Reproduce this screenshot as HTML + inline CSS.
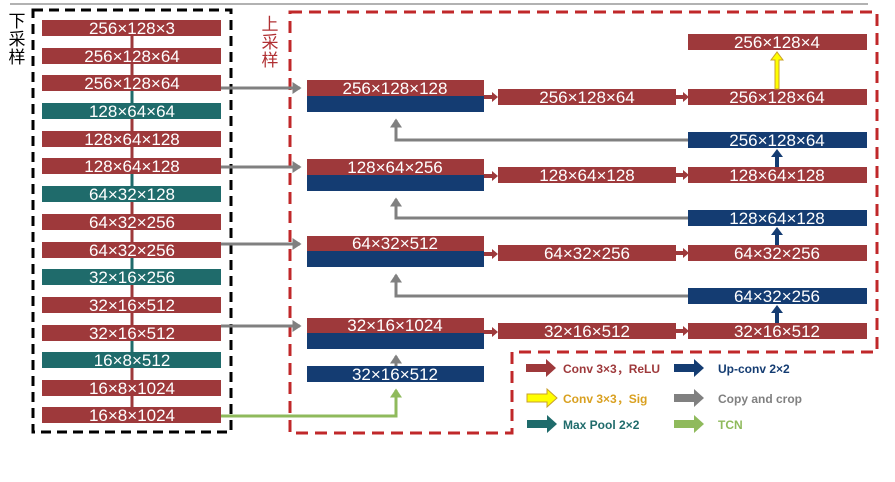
<!DOCTYPE html>
<html><head><meta charset="utf-8"><style>
body{margin:0;background:#fff;}
svg{display:block;}
text{font-family:"Liberation Sans","Noto Sans CJK SC",sans-serif;}
.w{fill:#fff;font-size:17px;text-anchor:middle;}
</style></head><body>
<svg width="895" height="482" viewBox="0 0 895 482" xmlns="http://www.w3.org/2000/svg">
<defs>
<marker id="ag" markerWidth="4" markerHeight="4" refX="2.5" refY="2" orient="auto" markerUnits="strokeWidth"><path d="M0,0 L3,2 L0,4z" fill="#808080"/></marker>
<marker id="agr" markerWidth="4" markerHeight="4" refX="2.5" refY="2" orient="auto" markerUnits="strokeWidth"><path d="M0,0 L3,2 L0,4z" fill="#8fba5c"/></marker>
</defs>
<line x1="10" y1="4" x2="868" y2="4" stroke="#999" stroke-width="1.5"/>
<rect x="33" y="10" width="198" height="422" fill="none" stroke="#000" stroke-width="3" stroke-dasharray="10,6"/>
<path d="M290,12 H877 V352 H512 V433 H290 Z" fill="none" stroke="#c0282a" stroke-width="3" stroke-dasharray="12,7"/>
<text x="17" y="27" font-size="17" text-anchor="middle">下</text>
<text x="17" y="45" font-size="17" text-anchor="middle">采</text>
<text x="17" y="63" font-size="17" text-anchor="middle">样</text>
<text x="270" y="30" font-size="17" fill="#b03033" text-anchor="middle">上</text>
<text x="270" y="48" font-size="17" fill="#b03033" text-anchor="middle">采</text>
<text x="270" y="66" font-size="17" fill="#b03033" text-anchor="middle">样</text>

<g stroke-width="3">
<line x1="132" y1="36" x2="132" y2="48" stroke="#9e393b"/>
<line x1="132" y1="64" x2="132" y2="76" stroke="#9e393b"/>
<line x1="132" y1="91" x2="132" y2="103" stroke="#1f6b6b"/>
<line x1="132" y1="119" x2="132" y2="131" stroke="#9e393b"/>
<line x1="132" y1="147" x2="132" y2="159" stroke="#9e393b"/>
<line x1="132" y1="174" x2="132" y2="186" stroke="#1f6b6b"/>
<line x1="132" y1="202" x2="132" y2="214" stroke="#9e393b"/>
<line x1="132" y1="230" x2="132" y2="242" stroke="#9e393b"/>
<line x1="132" y1="257" x2="132" y2="269" stroke="#1f6b6b"/>
<line x1="132" y1="285" x2="132" y2="297" stroke="#9e393b"/>
<line x1="132" y1="313" x2="132" y2="325" stroke="#9e393b"/>
<line x1="132" y1="340" x2="132" y2="352" stroke="#1f6b6b"/>
<line x1="132" y1="368" x2="132" y2="380" stroke="#9e393b"/>
<line x1="132" y1="396" x2="132" y2="408" stroke="#9e393b"/>
</g>
<g>
<rect x="42" y="20" width="179" height="16" fill="#9e393b"/><text class="w" x="132" y="34">256×128×3</text>
<rect x="42" y="48" width="179" height="16" fill="#9e393b"/><text class="w" x="132" y="62">256×128×64</text>
<rect x="42" y="75" width="179" height="16" fill="#9e393b"/><text class="w" x="132" y="89">256×128×64</text>
<rect x="42" y="103" width="179" height="16" fill="#1f6b6b"/><text class="w" x="132" y="117">128×64×64</text>
<rect x="42" y="131" width="179" height="16" fill="#9e393b"/><text class="w" x="132" y="145">128×64×128</text>
<rect x="42" y="158" width="179" height="16" fill="#9e393b"/><text class="w" x="132" y="172">128×64×128</text>
<rect x="42" y="186" width="179" height="16" fill="#1f6b6b"/><text class="w" x="132" y="200">64×32×128</text>
<rect x="42" y="214" width="179" height="16" fill="#9e393b"/><text class="w" x="132" y="228">64×32×256</text>
<rect x="42" y="242" width="179" height="16" fill="#9e393b"/><text class="w" x="132" y="256">64×32×256</text>
<rect x="42" y="269" width="179" height="16" fill="#1f6b6b"/><text class="w" x="132" y="283">32×16×256</text>
<rect x="42" y="297" width="179" height="16" fill="#9e393b"/><text class="w" x="132" y="311">32×16×512</text>
<rect x="42" y="325" width="179" height="16" fill="#9e393b"/><text class="w" x="132" y="339">32×16×512</text>
<rect x="42" y="352" width="179" height="16" fill="#1f6b6b"/><text class="w" x="132" y="366">16×8×512</text>
<rect x="42" y="380" width="179" height="16" fill="#9e393b"/><text class="w" x="132" y="394">16×8×1024</text>
<rect x="42" y="407" width="179" height="16" fill="#9e393b"/><text class="w" x="132" y="421">16×8×1024</text>
</g>

<g stroke="#808080" stroke-width="3" fill="none">
<line x1="221" y1="88" x2="300" y2="88" marker-end="url(#ag)"/>
<line x1="221" y1="167" x2="300" y2="167" marker-end="url(#ag)"/>
<line x1="221" y1="244" x2="300" y2="244" marker-end="url(#ag)"/>
<line x1="221" y1="326" x2="300" y2="326" marker-end="url(#ag)"/>
<polyline points="688,140 396,140 396,120" marker-end="url(#ag)"/>
<polyline points="688,218 396,218 396,199" marker-end="url(#ag)"/>
<polyline points="688,296 396,296 396,275" marker-end="url(#ag)"/>
<line x1="396" y1="366" x2="396" y2="356" marker-end="url(#ag)"/>
</g>
<polyline points="221,416 396,416 396,390" stroke="#8fba5c" stroke-width="3" fill="none" marker-end="url(#agr)"/>

<g>
<rect x="307" y="80" width="177" height="16" fill="#9e393b"/><rect x="307" y="96" width="177" height="16" fill="#143c72"/><text class="w" x="395" y="94">256×128×128</text>
<rect x="307" y="159" width="177" height="16" fill="#9e393b"/><rect x="307" y="175" width="177" height="16" fill="#143c72"/><text class="w" x="395" y="173">128×64×256</text>
<rect x="307" y="236" width="177" height="15" fill="#9e393b"/><rect x="307" y="251" width="177" height="16" fill="#143c72"/><text class="w" x="395" y="249">64×32×512</text>
<rect x="307" y="318" width="177" height="15" fill="#9e393b"/><rect x="307" y="333" width="177" height="16" fill="#143c72"/><text class="w" x="395" y="331">32×16×1024</text>
<rect x="307" y="366" width="177" height="16" fill="#143c72"/><text class="w" x="395" y="380">32×16×512</text>
</g>

<g fill="#9e393b">
<path d="M484,95 h8 v-3 l6,5 l-6,5 v-3 h-8z"/>
<path d="M484,174 h8 v-3 l6,5 l-6,5 v-3 h-8z"/>
<path d="M484,252 h8 v-3 l6,5 l-6,5 v-3 h-8z"/>
<path d="M484,330 h8 v-3 l6,5 l-6,5 v-3 h-8z"/>
<path d="M676,95 h7 v-3 l6,5 l-6,5 v-3 h-7z"/>
<path d="M676,173 h7 v-3 l6,5 l-6,5 v-3 h-7z"/>
<path d="M676,251 h7 v-3 l6,5 l-6,5 v-3 h-7z"/>
<path d="M676,329 h7 v-3 l6,5 l-6,5 v-3 h-7z"/>
</g>

<rect x="498" y="89" width="178" height="16" fill="#9e393b"/><text class="w" x="587" y="103">256×128×64</text>
<rect x="498" y="167" width="178" height="16" fill="#9e393b"/><text class="w" x="587" y="181">128×64×128</text>
<rect x="498" y="245" width="178" height="16" fill="#9e393b"/><text class="w" x="587" y="259">64×32×256</text>
<rect x="498" y="323" width="178" height="16" fill="#9e393b"/><text class="w" x="587" y="337">32×16×512</text>

<rect x="688" y="34" width="179" height="16" fill="#9e393b"/><text class="w" x="777" y="48">256×128×4</text>
<rect x="688" y="89" width="179" height="16" fill="#9e393b"/><text class="w" x="777" y="103">256×128×64</text>
<rect x="688" y="132" width="179" height="16" fill="#143c72"/><text class="w" x="777" y="146">256×128×64</text>
<rect x="688" y="167" width="179" height="16" fill="#9e393b"/><text class="w" x="777" y="181">128×64×128</text>
<rect x="688" y="210" width="179" height="16" fill="#143c72"/><text class="w" x="777" y="224">128×64×128</text>
<rect x="688" y="245" width="179" height="16" fill="#9e393b"/><text class="w" x="777" y="259">64×32×256</text>
<rect x="688" y="288" width="179" height="16" fill="#143c72"/><text class="w" x="777" y="302">64×32×256</text>
<rect x="688" y="323" width="179" height="16" fill="#9e393b"/><text class="w" x="777" y="337">32×16×512</text>

<path d="M775,89 v-29 h-4 l6,-8 l6,8 h-4 v29z" fill="#ffff00" stroke="#c9a02b" stroke-width="1"/>
<g fill="#143c72">
<path d="M775,167 v-10 h-4 l6,-8 l6,8 h-4 v10z"/>
<path d="M775,245 v-10 h-4 l6,-8 l6,8 h-4 v10z"/>
<path d="M775,323 v-10 h-4 l6,-8 l6,8 h-4 v10z"/>
</g>

<g font-size="12" font-weight="bold">
<path d="M526,364 h20 v-5 l10,9 l-10,9 v-5 h-20z" fill="#9e393b"/>
<text x="563" y="373" fill="#9e393b">Conv 3×3，ReLU</text>
<path d="M527,394 h20 v-5 l10,9 l-10,9 v-5 h-20z" fill="#ffff00" stroke="#c9a02b"/>
<text x="563" y="403" fill="#d9a020">Conv 3×3，Sig</text>
<path d="M527,420 h20 v-5 l10,9 l-10,9 v-5 h-20z" fill="#1f6b6b"/>
<text x="563" y="429" fill="#1f6b6b">Max Pool 2×2</text>
<path d="M674,364 h20 v-5 l10,9 l-10,9 v-5 h-20z" fill="#143c72"/>
<text x="718" y="373" fill="#143c72">Up-conv 2×2</text>
<path d="M674,394 h20 v-5 l10,9 l-10,9 v-5 h-20z" fill="#808080"/>
<text x="718" y="403" fill="#808080">Copy and crop</text>
<path d="M674,420 h20 v-5 l10,9 l-10,9 v-5 h-20z" fill="#8fba5c"/>
<text x="718" y="429" fill="#8fba5c">TCN</text>
</g>
</svg>
</body></html>
